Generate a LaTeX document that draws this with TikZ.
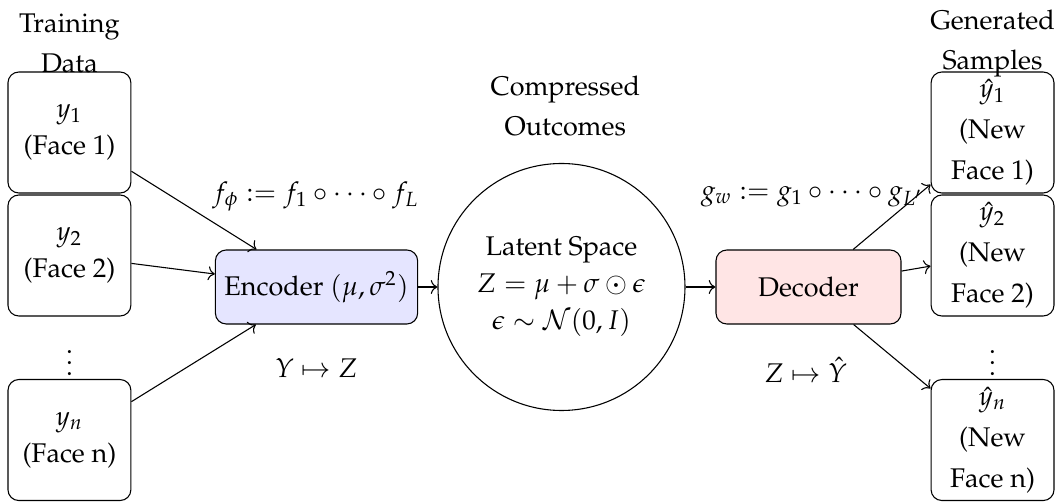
\documentclass[tikz,border=0pt]{standalone}
\usepackage[T1]{fontenc}
\usepackage{mathpazo}
\usepackage{amsmath,amssymb}
\usetikzlibrary{arrows.meta,positioning}
\linespread{1.14}

\begin{document}
\begin{tikzpicture}[
    sample/.style={draw, rounded corners, align=center, minimum width=1.6cm, minimum height=1.575cm, inner sep=2pt},
    coder/.style={draw, rounded corners, minimum height=0.963cm},
    caption/.style={align=center}
  ]
    \useasboundingbox (-7.309,-2.799) rectangle (6.424,3.736);

    % Training data
    \node[caption] (train) at (-6.405,3.17) {Training\\[1pt]Data};
    \node[sample] (y1) at (-6.405,2.011) {$y_1$\\(Face 1)};
    \node[sample] (y2) at (-6.405,0.41) {$y_2$\\(Face 2)};
    \node (ydots) at (-6.405,-0.885) {$\vdots$};
    \node[sample] (yn) at (-6.405,-1.992) {$y_n$\\(Face n)};

    % Encoder, latent space, decoder
    \node[coder, fill=blue!10] (enc) at (-3.189,0) {Encoder $(\mu,\sigma^2)$};
    \node[draw, circle, minimum size=3.215cm, align=center] (lat) at (0,0)
      {Latent Space\\$Z=\mu+\sigma\odot\epsilon$\\$\epsilon\sim\mathcal{N}(0,I)$};
    \node[caption] (comp) at (0.05,2.356) {Compressed\\[1pt]Outcomes};
    \node[coder, fill=red!10, minimum width=2.408cm] (dec) at (3.215,0) {Decoder};

    \node (flab) at (-3.2,1.172) {$f_\phi:=f_1\circ\cdots\circ f_L$};
    \node (fmap) at (-3.189,-1.054) {$Y\mapsto Z$};
    \node (glab) at (3.26,1.172) {$g_w:=g_1\circ\cdots\circ g_{L'}$};
    \node (gmap) at (3.18,-1.08) {$Z\mapsto\hat{Y}$};

    % Generated samples
    \node[caption] (gen) at (5.611,3.17) {Generated\\[1pt]Samples};
    \node[sample] (h1) at (5.611,2.011) {$\hat{y}_1$\\[1.5pt](New\\[1.5pt]Face 1)};
    \node[sample] (h2) at (5.611,0.41) {$\hat{y}_2$\\[1.5pt](New\\[1.5pt]Face 2)};
    \node (hdots) at (5.611,-0.885) {$\vdots$};
    \node[sample] (hn) at (5.611,-1.992) {$\hat{y}_n$\\[1.5pt](New\\[1.5pt]Face n)};

    \foreach \s in {y1,y2,yn}
      \draw[->] (\s) -- (enc);
    \draw[->] (enc) -- (lat);
    \draw[->] (lat) -- (dec);
    \foreach \s in {h1,h2,hn}
      \draw[->] (dec) -- (\s);
  \end{tikzpicture}
\end{document}
